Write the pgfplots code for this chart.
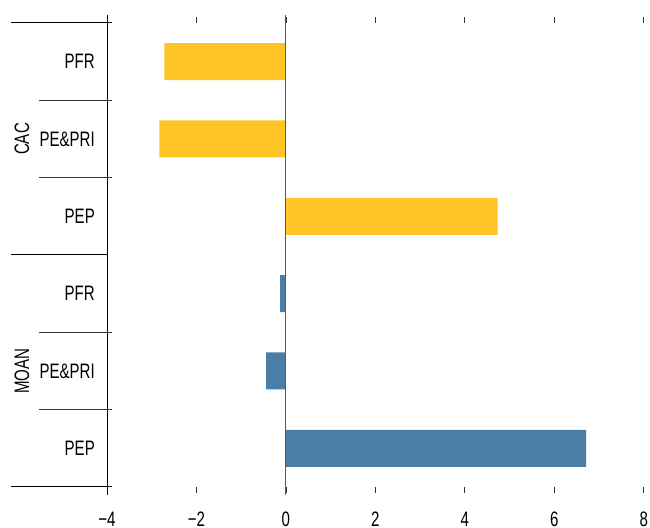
\documentclass[border=0pt]{standalone}
\usepackage{fontspec}
\setmainfont{Liberation Sans}[FakeStretch=0.72]
\usepackage{pgfplots}
\pgfplotsset{compat=1.18}
\definecolor{barYellow}{RGB}{255,196,37}
\definecolor{barBlue}{RGB}{74,126,167}
\begin{document}
\fontsize{21}{25}\selectfont
\begin{tikzpicture}
\begin{axis}[
  at={(0,0)}, anchor=south west,
  scale only axis,
  width=536.8bp, height=464bp,
  xmin=-4, xmax=8, ymin=0, ymax=6,
  clip=false,
  axis line style={draw=none},
  xtick={-4,-2,0,2,4,6,8},
  xticklabels={−4,−2,0,2,4,6,8},
  xtick pos=both,
  xticklabel pos=lower,
  tick align=outside,
  major tick length=6bp,
  xtick style={black!80, line width=0.8pt},
  xticklabel style={inner sep=0pt, anchor=north, yshift=-19bp, font=\fontsize{21}{25}\selectfont},
  ytick={0.5,1.5,2.5,3.5,4.5,5.5},
  yticklabels={PEP,PE\&PRI,PFR,PEP,PE\&PRI,PFR},
  ytick style={draw=none},
  yticklabel style={inner sep=0pt, anchor=east, font=\fontsize{21}{25}\selectfont},
  yticklabel shift=6bp,
  xbar, bar width=37bp, bar shift=0pt,
]
\addplot[fill=barBlue, draw=none] coordinates {(6.71,0.5) (-0.44,1.5) (-0.13,2.5)};
\addplot[fill=barYellow, draw=none] coordinates {(4.73,3.5) (-2.83,4.5) (-2.72,5.5)};
\end{axis}
% zero line
\draw[gray!70!black, line width=1pt] (178.7bp,-8bp) -- (178.7bp,472bp);
% left axis line
\draw[black, line width=1pt] (0,-8bp) -- (0,472bp);
% separators
\foreach \y in {0,464} {\draw[black, line width=1pt] (-96bp,\y bp) -- (5bp,\y bp);}
\draw[black, line width=1pt] (-96bp,232bp) -- (0bp,232bp);
\foreach \y in {77.33,154.67,309.33,386.67} {\draw[black!80, line width=1pt] (-68bp,\y bp) -- (5bp,\y bp);}
% group labels
\node[rotate=90, inner sep=0pt] at (-85bp,348bp) {CAC};
\node[rotate=90, inner sep=0pt] at (-85bp,116bp) {MOAN};
\path[use as bounding box] (-107bp,-40bp) rectangle (543bp,487bp);
\end{tikzpicture}
\end{document}
